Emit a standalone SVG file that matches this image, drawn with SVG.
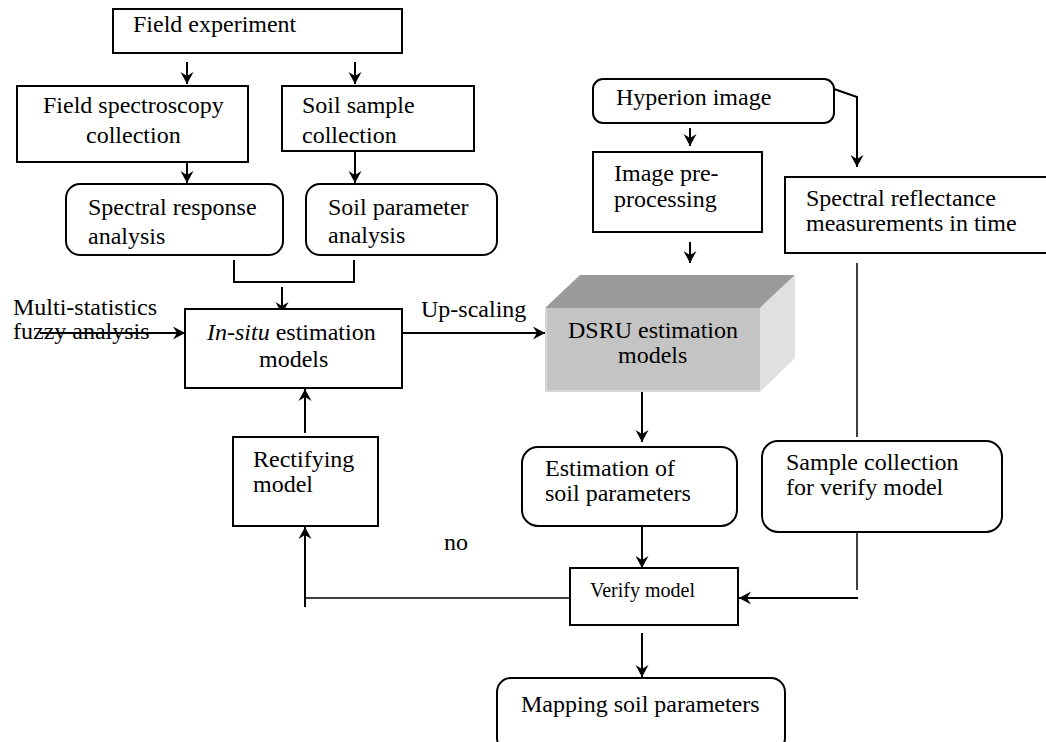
<svg xmlns="http://www.w3.org/2000/svg" width="1046" height="742" viewBox="0 0 1046 742">
  <style>
    .box { fill: #fff; stroke: #000; stroke-width: 2; }
    .ln { fill: none; stroke: #000; stroke-width: 2; }
    .thin { fill: none; stroke: #000; stroke-width: 1.5; }
    .small { font-size: 20px; }
  </style>
  <defs>
    <marker id="arr" markerUnits="userSpaceOnUse" markerWidth="14" markerHeight="14" refX="12" refY="7" orient="auto">
      <path d="M0,0.5 L12,7 L0,13.5 L4,7 z" fill="#000"/>
    </marker>
  </defs>
  <rect width="1046" height="742" fill="#fff"/>

  <!-- connectors -->
  <g id="connectors">
    <line class="ln" x1="187" y1="62" x2="187" y2="84" marker-end="url(#arr)"/>
    <line class="ln" x1="355" y1="62" x2="355" y2="84" marker-end="url(#arr)"/>
    <line class="ln" x1="187" y1="162" x2="187" y2="183" marker-end="url(#arr)"/>
    <line class="ln" x1="355" y1="152" x2="355" y2="183" marker-end="url(#arr)"/>
    <path class="ln" d="M234,260 V282 H354 V260"/>
    <line class="ln" x1="282" y1="287" x2="282" y2="314" marker-end="url(#arr)"/>
    <line class="ln" x1="40" y1="333" x2="185" y2="333" marker-end="url(#arr)"/>
    <line class="ln" x1="402" y1="333" x2="545" y2="333" marker-end="url(#arr)"/>
    <line class="ln" x1="690" y1="128" x2="690" y2="146" marker-end="url(#arr)"/>
    <line class="ln" x1="690" y1="242" x2="690" y2="263" marker-end="url(#arr)"/>
    <path class="ln" d="M834,89 L857,97 V167" marker-end="url(#arr)"/>
    <line class="thin" x1="857" y1="263" x2="857" y2="437"/>
    <line class="ln" x1="305" y1="433" x2="305" y2="389" marker-end="url(#arr)"/>
    <line class="ln" x1="642" y1="392" x2="642" y2="442" marker-end="url(#arr)"/>
    <line class="ln" x1="642" y1="526" x2="642" y2="568" marker-end="url(#arr)"/>
    <line class="thin" x1="857" y1="533" x2="857" y2="590"/>
    <line class="ln" x1="858" y1="598" x2="739" y2="598" marker-end="url(#arr)"/>
    <line class="thin" x1="575" y1="598" x2="305" y2="598"/>
    <line class="ln" x1="305" y1="607" x2="305" y2="527" marker-end="url(#arr)"/>
    <line class="ln" x1="642" y1="633" x2="642" y2="677" marker-end="url(#arr)"/>
  </g>

  <g font-family="'Liberation Serif', 'DejaVu Serif', serif" font-size="24" fill="#000">
  <g id="field-experiment">
    <rect class="box" x="113" y="9" width="289" height="44"/>
    <text x="133" y="32">Field experiment</text>
  </g>
  <g id="field-spectroscopy">
    <rect class="box" x="17" y="86" width="231" height="76"/>
    <text x="43" y="113">Field spectroscopy</text>
    <text x="86" y="143">collection</text>
  </g>
  <g id="soil-sample">
    <rect class="box" x="282" y="86" width="192" height="65"/>
    <text x="302" y="113">Soil sample</text>
    <text x="302" y="143">collection</text>
  </g>
  <g id="spectral-response">
    <rect class="box" x="66" y="184" width="217" height="71" rx="14"/>
    <text x="88" y="215">Spectral response</text>
    <text x="88" y="244">analysis</text>
  </g>
  <g id="soil-parameter">
    <rect class="box" x="306" y="184" width="191" height="71" rx="14"/>
    <text x="328" y="215">Soil parameter</text>
    <text x="328" y="243">analysis</text>
  </g>
  <g id="multi-statistics">
    <text x="13" y="315">Multi-statistics</text>
    <text x="13" y="339">fuzzy analysis</text>
  </g>
  <g id="in-situ">
    <rect class="box" x="185" y="309" width="217" height="79"/>
    <text x="207" y="340"><tspan font-style="italic">In-situ</tspan> estimation</text>
    <text x="259" y="367">models</text>
  </g>
  <g id="up-scaling">
    <text x="421" y="317">Up-scaling</text>
  </g>
  <g id="hyperion">
    <rect class="box" x="593" y="79" width="241" height="44" rx="10"/>
    <text x="616" y="105">Hyperion image</text>
  </g>
  <g id="pre-processing">
    <rect class="box" x="593" y="152" width="169" height="80"/>
    <text x="614" y="181">Image pre-</text>
    <text x="614" y="207">processing</text>
  </g>
  <g id="spectral-reflectance">
    <rect class="box" x="785" y="177" width="270" height="76"/>
    <text x="806" y="206">Spectral reflectance</text>
    <text x="806" y="231">measurements in time</text>
  </g>
  <g id="dsru">
    <polygon points="545,308 580,275 795,275 760,308" fill="#9a9a9a"/>
    <polygon points="760,308 795,275 795,358 760,392" fill="#e0e0e0"/>
    <rect x="545" y="308" width="215" height="84" fill="#c4c4c4"/>
    <path d="M546,308 V391 H760" fill="none" stroke="#d8d8d8" stroke-width="2"/>
    <text x="568" y="338">DSRU estimation</text>
    <text x="618" y="363">models</text>
  </g>
  <g id="rectifying">
    <rect class="box" x="233" y="437" width="145" height="89"/>
    <text x="253" y="467">Rectifying</text>
    <text x="253" y="492">model</text>
  </g>
  <g id="estimation">
    <rect class="box" x="522" y="447" width="215" height="79" rx="16"/>
    <text x="545" y="476">Estimation of</text>
    <text x="545" y="501">soil parameters</text>
  </g>
  <g id="sample-collection">
    <rect class="box" x="762" y="441" width="240" height="91" rx="16"/>
    <text x="786" y="470">Sample collection</text>
    <text x="786" y="495">for verify model</text>
  </g>
  <g id="no-label">
    <text x="444" y="550">no</text>
  </g>
  <g id="verify">
    <rect class="box" x="570" y="568" width="168" height="57"/>
    <text class="small" x="590" y="597">Verify model</text>
  </g>
  <g id="mapping">
    <rect class="box" x="497" y="678" width="288" height="74" rx="14"/>
    <text x="521" y="712">Mapping soil parameters</text>
  </g>
  </g>
</svg>
